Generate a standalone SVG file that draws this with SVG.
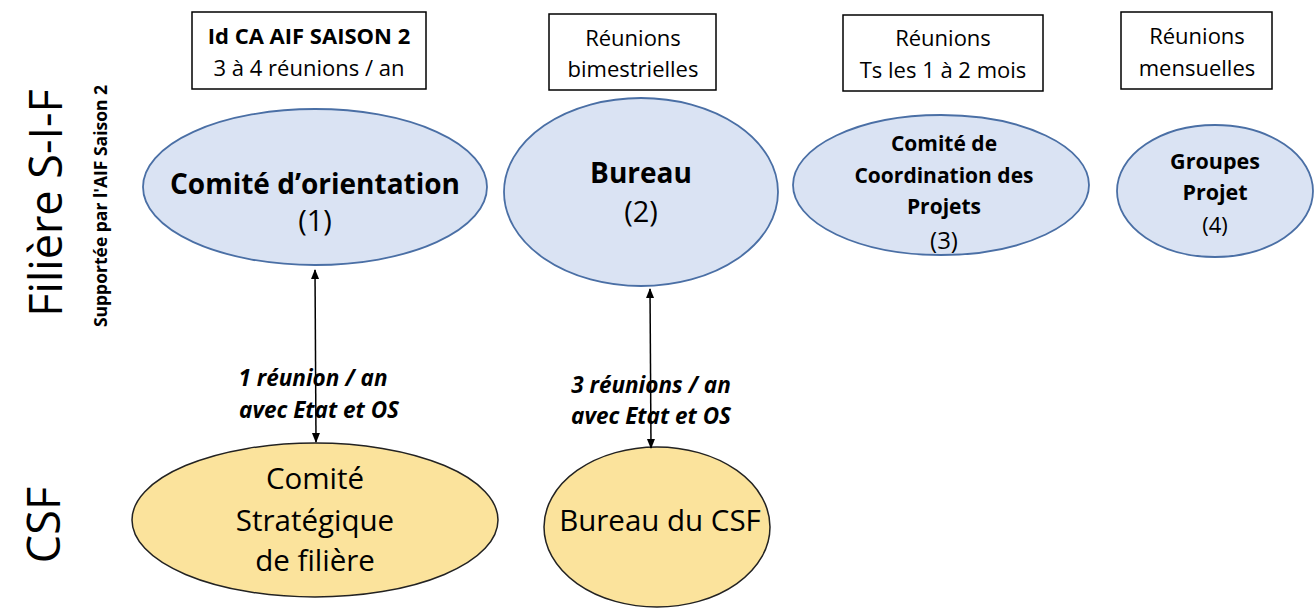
<svg xmlns="http://www.w3.org/2000/svg" width="1315" height="612" viewBox="0 0 1315 612">
<defs>
<style>
text{font-family:"Open Sans","Noto Sans","Liberation Sans",sans-serif;fill:#000;text-anchor:middle}
.box{fill:#fff;stroke:#000;stroke-width:1.5}
.blue{fill:#dae3f3;stroke:#4a6fa5;stroke-width:1.8}
.yel{fill:#fbe39c;stroke:#222;stroke-width:1.5}
.b{font-weight:bold}
.bt{font-size:22px}
.lbl{font-weight:bold;font-style:italic;font-size:22.5px}
.con{stroke:#000;stroke-width:1.5;fill:none}
</style>
<marker id="ah" markerWidth="10" markerHeight="10" refX="9" refY="5" orient="auto-start-reverse" markerUnits="userSpaceOnUse">
<path d="M0,1 L10,5 L0,9 Z" fill="#000"/>
</marker>
</defs>
<rect width="1315" height="612" fill="#fff"/>

<g id="side-labels">
<text transform="translate(62,203) rotate(-90)" font-size="45">Filière S-I-F</text>
<text transform="translate(107,206) rotate(-90)" class="b" font-size="17.5">Supportée par l'AIF Saison 2</text>
<text transform="translate(60,525) rotate(-90)" font-size="45">CSF</text>
</g>

<g id="box1">
<rect class="box" x="192" y="12" width="234" height="77"/>
<text x="309" y="44" class="b bt">Id CA AIF SAISON 2</text>
<text x="309" y="76" class="bt">3 à 4 réunions / an</text>
</g>
<g id="box2">
<rect class="box" x="549" y="14" width="167" height="76"/>
<text x="633" y="46" class="bt">Réunions</text>
<text x="633" y="77" class="bt">bimestrielles</text>
</g>
<g id="box3">
<rect class="box" x="843" y="15" width="200" height="76"/>
<text x="943" y="46" class="bt">Réunions</text>
<text x="943" y="78" class="bt">Ts les 1 à 2 mois</text>
</g>
<g id="box4">
<rect class="box" x="1121" y="12" width="151" height="77"/>
<text x="1197" y="44" class="bt">Réunions</text>
<text x="1197" y="76" class="bt">mensuelles</text>
</g>

<g id="comite-orientation">
<ellipse class="blue" cx="315" cy="187" rx="172" ry="78"/>
<text x="315" y="194" class="b" font-size="28">Comité d’orientation</text>
<text x="315" y="231" font-size="29">(1)</text>
</g>
<g id="bureau">
<ellipse class="blue" cx="641" cy="192" rx="137" ry="94"/>
<text x="641" y="183" class="b" font-size="28">Bureau</text>
<text x="641" y="222" font-size="29">(2)</text>
</g>
<g id="comite-coordination">
<ellipse class="blue" cx="941" cy="185" rx="148" ry="70"/>
<text x="944" y="151" class="b" font-size="21">Comité de</text>
<text x="944" y="183" class="b" font-size="21">Coordination des</text>
<text x="944" y="214" class="b" font-size="21">Projets</text>
<text x="944" y="249" font-size="24">(3)</text>
</g>
<g id="groupes-projet">
<ellipse class="blue" cx="1215" cy="191" rx="98" ry="66"/>
<text x="1215" y="169" class="b" font-size="21.5">Groupes</text>
<text x="1215" y="200" class="b" font-size="21.5">Projet</text>
<text x="1215" y="233" font-size="22">(4)</text>
</g>
<g id="comite-strategique">
<ellipse class="yel" cx="315" cy="520" rx="183" ry="77"/>
<text x="315" y="489" font-size="29.5">Comité</text>
<text x="315" y="531" font-size="29.5">Stratégique</text>
<text x="315" y="571" font-size="29.5">de filière</text>
</g>
<g id="bureau-csf">
<ellipse class="yel" cx="657" cy="527" rx="113" ry="80"/>
<text x="660" y="531" font-size="29.5">Bureau du CSF</text>
</g>

<g id="connectors">
<line class="con" x1="315" y1="270" x2="316" y2="442" marker-start="url(#ah)" marker-end="url(#ah)"/>
<line class="con" x1="650" y1="289" x2="651" y2="448" marker-start="url(#ah)" marker-end="url(#ah)"/>
<text x="313" y="386" class="lbl">1 réunion / an</text>
<text x="319" y="418" class="lbl">avec Etat et OS</text>
<text x="651" y="393" class="lbl">3 réunions / an</text>
<text x="651" y="424" class="lbl">avec Etat et OS</text>
</g>
</svg>
